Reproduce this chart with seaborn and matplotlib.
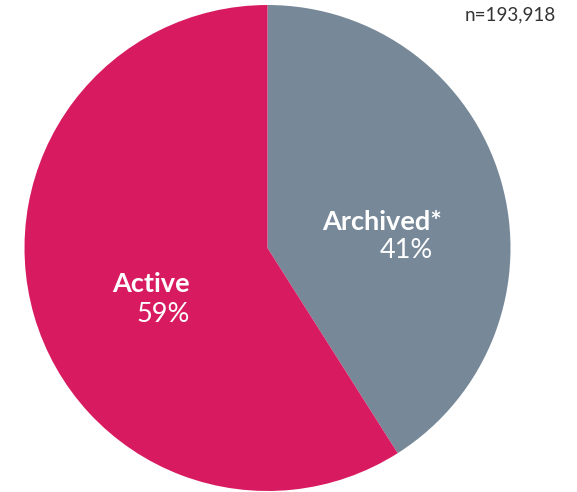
import matplotlib
matplotlib.use("Agg")
import matplotlib.pyplot as plt
import seaborn as sns

# data
categories = ["Archived*", "Active"]
shares = [41, 59]
total_n = 193918

colors = ["#778899", "#D81B60"]

sns.set_theme(style="white")
plt.rcParams["font.family"] = ["Lato", "DejaVu Sans"]

W, H = 577, 492
fig = plt.figure(figsize=(W / 100, H / 100), dpi=100)
R = 243
cx, cy = 267.5, 492 - 248
ax = fig.add_axes([(cx - R) / W, (cy - R) / H, 2 * R / W, 2 * R / H])

ax.pie(shares, colors=colors, startangle=90, counterclock=False,
       wedgeprops={"linewidth": 0}, radius=1)
ax.set_xlim(-1, 1)
ax.set_ylim(-1, 1)
ax.set_aspect("equal")
ax.axis("off")

# label positions (data coords, right-aligned)
label_pos = [((442 - cx) / R, 0.107, (433 - cx) / R, -0.012),
             ((190 - cx) / R, -0.148, (190 - cx) / R, -0.272)]
for cat, val, (lx, ly, px, py) in zip(categories, shares, label_pos):
    ax.text(lx, ly, cat, ha="right", va="center", color="white",
            fontsize=19.5, fontweight="bold")
    ax.text(px, py, f"{val}%", ha="right", va="center", color="white",
            fontsize=19.5)

fig.text(556 / W, 1 - 15 / H, f"n={total_n:,}", ha="right", va="center",
         fontsize=13.5, color="#333333")

fig.savefig("out.png", dpi=100)
